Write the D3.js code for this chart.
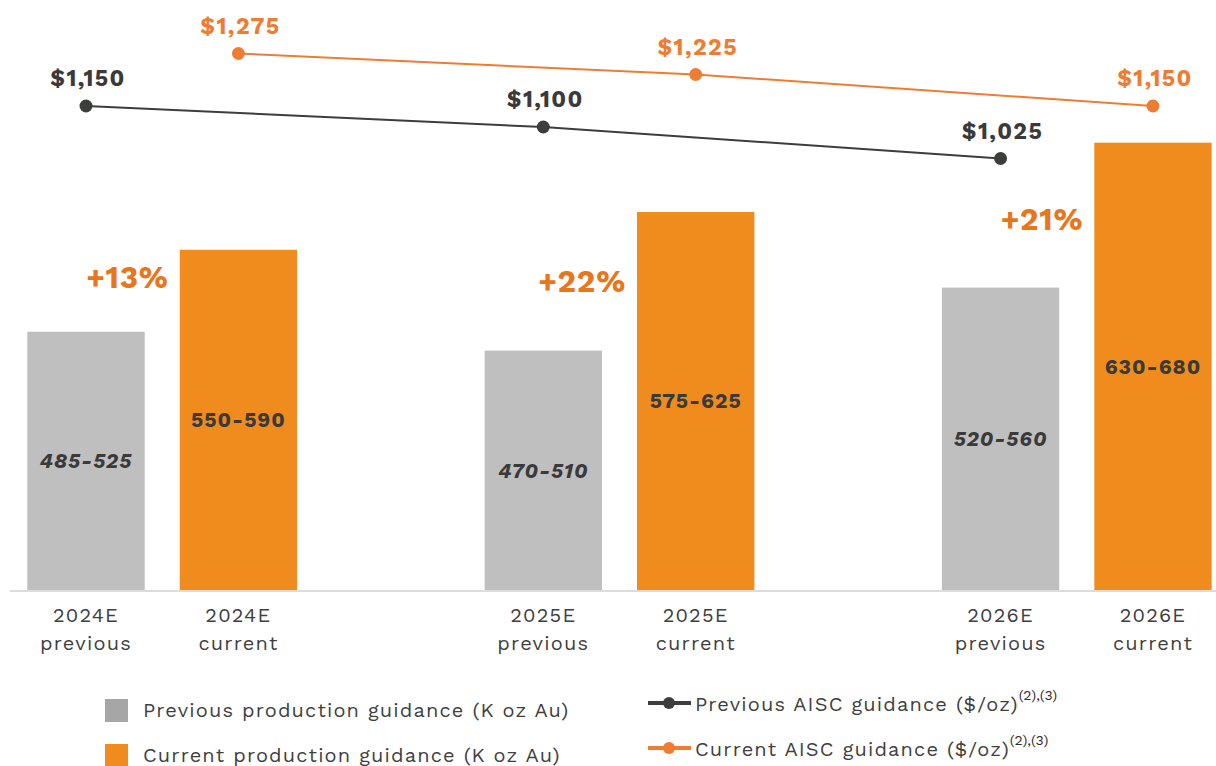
<!DOCTYPE html>
<html>
<head>
<meta charset="utf-8">
<script src="https://cdn.jsdelivr.net/npm/d3@7"></script>
<style>
  body { margin: 0; background: #fff; }
  svg { display: block; font-family: "Work Sans", "Noto Sans", sans-serif; }
</style>
</head>
<body>
<div id="chart"></div>
<script>
const svgWidth = 1216
const svgHeight = 766

// slots, blanks keep the gap between years
const slots = ["2024p", "2024c", "gapA", "2025p", "2025c", "gapB", "2026p", "2026c"]
const years = ["2024E", "2025E", "2026E"]
const prevRange = ["485-525", "470-510", "520-560"]
const currRange = ["550-590", "575-625", "630-680"]
const prevMid = [505, 490, 540]
const currMid = [570, 600, 655]
const uplift = ["+13%", "+22%", "+21%"]
const prevAisc = [1150, 1100, 1025]
const currAisc = [1275, 1225, 1150]

const grey = "#bfbfbf"
const orange = "#f08c1e"
const lineOrange = "#ee7d31"
const dark = "#3b3e3b"
const pctOrange = "#e8761c"

let bars = []
years.forEach((yr, i) => {
	bars.push({slot: slots[i*3], year: yr, kind: "previous", value: prevMid[i], label: prevRange[i], aisc: prevAisc[i]})
	bars.push({slot: slots[i*3+1], year: yr, kind: "current", value: currMid[i], label: currRange[i], aisc: currAisc[i]})
})

const x = d3.scaleBand()
	.domain(slots)
	.range([9.8, 1229.2])
	.paddingInner(0.23)
	.paddingOuter(0.115)

const y = d3.scaleLinear().domain([300, 700]).range([590, 86])
const yA = d3.scaleLinear().domain([1000, 1300]).range([169, 43])

const svg = d3.select("#chart").append("svg")
	.attr("width", svgWidth)
	.attr("height", svgHeight)

// bars
svg.append("g").selectAll("rect")
	.data(bars)
	.enter().append("rect")
	.attr("x", d => x(d.slot))
	.attr("y", d => y(d.value))
	.attr("width", x.bandwidth())
	.attr("height", d => y(300) - y(d.value))
	.attr("fill", d => d.kind === "previous" ? grey : orange)

// baseline
svg.append("line")
	.attr("x1", 10).attr("x2", svgWidth)
	.attr("y1", y(300) + 1).attr("y2", y(300) + 1)
	.attr("stroke", "#dcdcdc").attr("stroke-width", 2)

// range labels inside bars
svg.append("g").selectAll("text")
	.data(bars)
	.enter().append("text")
	.attr("x", d => x(d.slot) + x.bandwidth() / 2)
	.attr("y", d => (y(d.value) + y(300)) / 2)
	.attr("dy", "0.35em")
	.attr("text-anchor", "middle")
	.attr("font-size", 21)
	.attr("font-weight", "bold")
	.attr("letter-spacing", 1)
	.attr("font-style", d => d.kind === "previous" ? "italic" : "normal")
	.attr("fill", "#3a3a3a")
	.text(d => d.label)

// category labels
const cat = svg.append("g").selectAll("text")
	.data(bars)
	.enter().append("text")
	.attr("text-anchor", "middle")
	.attr("font-size", 20)
	.attr("letter-spacing", 1.2)
	.attr("fill", "#404040")
cat.append("tspan")
	.attr("x", d => x(d.slot) + x.bandwidth() / 2)
	.attr("y", 622)
	.text(d => d.year)
cat.append("tspan")
	.attr("x", d => x(d.slot) + x.bandwidth() / 2)
	.attr("y", 650)
	.text(d => d.kind)

// uplift labels, hand-placed between the two bar tops
const upliftNudge = [-14, 0, 4]
svg.append("g").selectAll("text")
	.data(uplift)
	.enter().append("text")
	.attr("x", (d, i) => x(slots[i*3+1]) - 11)
	.attr("y", (d, i) => (y(prevMid[i]) + y(currMid[i])) / 2 + upliftNudge[i])
	.attr("dy", "0.35em")
	.attr("text-anchor", "end")
	.attr("font-size", 31)
	.attr("font-weight", "bold")
	.attr("letter-spacing", 0.8)
	.attr("fill", pctOrange)
	.text(d => d)

// AISC lines
const line = d3.line()
	.x(d => x(d.slot) + x.bandwidth() / 2)
	.y(d => yA(d.aisc))

const series = [
	{kind: "previous", color: dark, labelColor: "#3a3a3a"},
	{kind: "current", color: lineOrange, labelColor: lineOrange}
]
series.forEach(s => {
	const pts = bars.filter(b => b.kind === s.kind)
	svg.append("path")
		.datum(pts)
		.attr("d", line)
		.attr("fill", "none")
		.attr("stroke", s.color)
		.attr("stroke-width", 2)
	svg.append("g").selectAll("circle")
		.data(pts)
		.enter().append("circle")
		.attr("cx", d => x(d.slot) + x.bandwidth() / 2)
		.attr("cy", d => yA(d.aisc))
		.attr("r", 6.5)
		.attr("fill", s.color)
	svg.append("g").selectAll("text")
		.data(pts)
		.enter().append("text")
		.attr("x", d => x(d.slot) + x.bandwidth() / 2 + 2)
		.attr("y", d => yA(d.aisc) - 20)
		.attr("text-anchor", "middle")
		.attr("font-size", 23)
		.attr("font-weight", "bold")
		.attr("letter-spacing", 1.4)
		.attr("fill", s.labelColor)
		.text(d => "$" + d3.format(",")(d.aisc))
})

// legend: production
const legBars = [
	{label: "Previous production guidance (K oz Au)", color: "#a6a6a6", y: 699},
	{label: "Current production guidance (K oz Au)", color: orange, y: 744}
]
const lb = svg.append("g").selectAll("g")
	.data(legBars)
	.enter().append("g")
lb.append("rect")
	.attr("x", 105).attr("y", d => d.y)
	.attr("width", 23).attr("height", 23)
	.attr("fill", d => d.color)
lb.append("text")
	.attr("x", 143).attr("y", d => d.y + 18)
	.attr("font-size", 20)
	.attr("letter-spacing", 1.15)
	.attr("fill", "#404040")
	.text(d => d.label)

// legend: AISC
const legLines = [
	{label: "Previous AISC guidance ($/oz)", color: dark, y: 703},
	{label: "Current AISC guidance ($/oz)", color: lineOrange, y: 748}
]
const ll = svg.append("g").selectAll("g")
	.data(legLines)
	.enter().append("g")
ll.append("line")
	.attr("x1", 648).attr("x2", 691)
	.attr("y1", d => d.y).attr("y2", d => d.y)
	.attr("stroke", d => d.color).attr("stroke-width", 4)
ll.append("circle")
	.attr("cx", 669).attr("cy", d => d.y).attr("r", 6)
	.attr("fill", d => d.color)
const lt = ll.append("text")
	.attr("x", 695).attr("y", d => d.y + 8)
	.attr("font-size", 20)
	.attr("letter-spacing", 1.15)
	.attr("fill", "#404040")
lt.append("tspan").text(d => d.label)
lt.append("tspan")
	.attr("dy", -11)
	.attr("font-size", 14)
	.attr("letter-spacing", 0)
	.attr("fill", "#3a2a2a")
	.text("(2),(3)")
</script>
</body>
</html>
